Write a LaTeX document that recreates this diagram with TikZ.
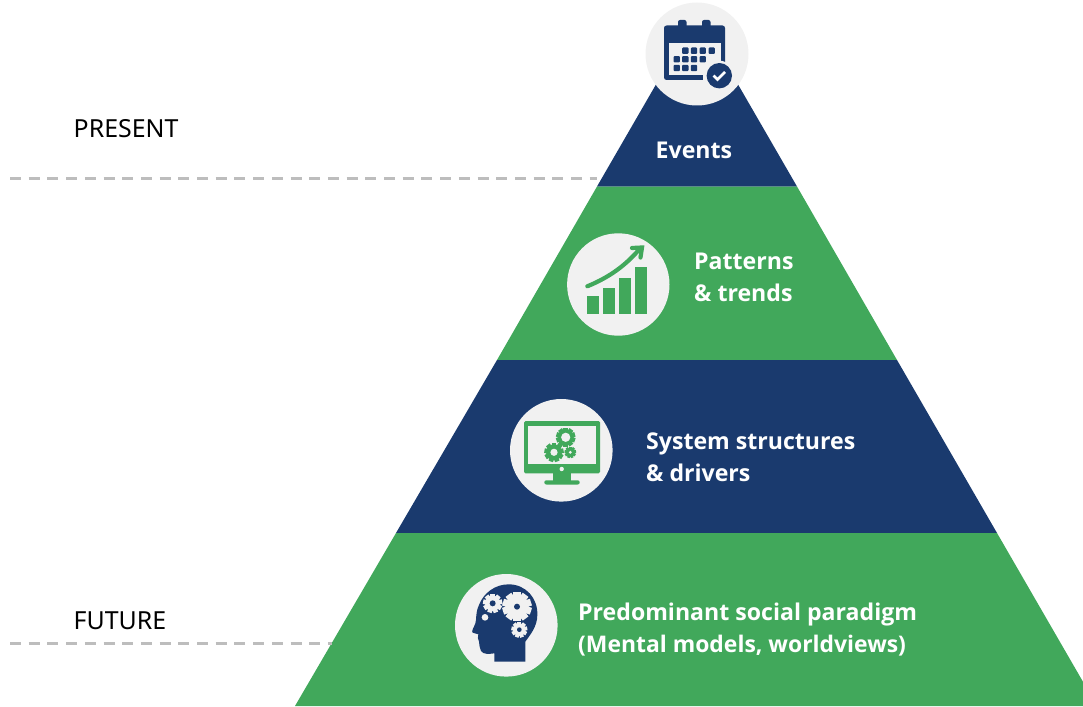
\documentclass[tikz,border=0pt]{standalone}
\usepackage{fontspec}
\setmainfont{Noto Sans}
\newfontfamily\lvlfont{Open Sans}[BoldFont={Open Sans Bold}]
\definecolor{navy}{HTML}{1A3A6E}
\definecolor{leaf}{HTML}{41A85B}
\definecolor{disc}{HTML}{F1F1F1}
\definecolor{dashgray}{HTML}{BDBDBD}
\newcommand{\gearshape}[6]{% x y outer body teeth fill
  \fill[#6] (#1,#2) circle (#4);
  \foreach \k in {1,...,#5}{
    \fill[#6,rotate around={\k*360/#5:(#1,#2)}] ({#1-0.24*#3},#2) rectangle ({#1+0.24*#3},{#2-#3});
  }
}
\tikzset{
  x=1pt,y=-1pt,
  band/.style={draw=none},
  badge/.style={fill=disc},
  guide/.style={draw=dashgray,line width=2.8pt,dash pattern=on 11pt off 7.7pt},
  side/.style={anchor=base west,font=\fontsize{24.9}{24}\selectfont,text=black,inner sep=0pt},
  level/.style={anchor=base west,font=\lvlfont\bfseries\fontsize{23.1}{32}\selectfont,text=white,inner sep=0pt},
}
\begin{document}
\begin{tikzpicture}
\useasboundingbox (0,0) rectangle (1083,706);
\begin{scope}
\clip (0,0) rectangle (1083,706);
\fill[navy,band] (697,13.5) -- (797,186.5) -- (597,186.5) -- cycle;
\fill[leaf,band] (597,186.5) -- (797,186.5) -- (897,360) -- (497,360) -- cycle;
\fill[navy,band] (497,360) -- (897,360) -- (997,533) -- (396,533) -- cycle;
\fill[leaf,band] (396,533) -- (997,533) -- (1097,706) -- (295,706) -- cycle;
\end{scope}
\coordinate (pa) at (10,178.4); \coordinate (pb) at (597,178.4);
\coordinate (fa) at (10,643.4); \coordinate (fb) at (332,643.4);
\draw[guide] (pa) -- (pb);
\draw[guide] (fa) -- (fb);
\node[side] (present) at (73.5,137) {PRESENT};
\node[side] (future) at (73.5,629) {FUTURE};
\node[level] (events) at (655.5,158) {Events};
\node[level] (pat1) at (694,269) {Patterns};
\node[level] (pat2) at (694,301) {\&~trends};
\node[level] (sys1) at (646,449) {System structures};
\node[level] (sys2) at (646,481) {\&~drivers};
\node[level] (par1) at (578,620) {Predominant social paradigm};
\node[level] (par2) at (578,652) {\fontsize{22.9}{32}\selectfont (Mental models, worldviews)};
% calendar
\fill[badge] (697,54) circle (51.5);
\fill[navy,rounded corners=2.5pt] (664,25.5) rectangle (725,80);
\fill[disc] (669,43.5) rectangle (721,75);
\fill[disc] (721,62) rectangle (726,81);
\fill[disc] (703,75) rectangle (726,81);
\fill[navy,rounded corners=2pt] (678,20) rectangle (686.5,32);
\fill[navy,rounded corners=2pt] (702,20) rectangle (710.5,32);
\foreach \cx/\cy in {685.3/50.7,694/50.7,702.7/50.7,711.7/50.7,676.7/59.3,685.3/59.3,694/59.3,702.7/59.3,676.7/68,685.3/68,694/68}
  \fill[navy,rounded corners=1pt] (\cx-3.2,\cy-3.2) rectangle (\cx+3.2,\cy+3.2);
\fill[disc] (719.3,75.7) circle (15);
\fill[navy] (719.3,75.7) circle (12.7);
\draw[white,line width=2.6pt] (713.5,75.5) -- (717.5,79.5) -- (725,72);
% chart
\fill[badge] (618.3,284.5) circle (51.2);
\fill[leaf] (587.3,295.7) rectangle (599,314.3);
\fill[leaf] (603.3,288.3) rectangle (615,314.3);
\fill[leaf] (619,278.3) rectangle (630.7,314.3);
\fill[leaf] (635,267.3) rectangle (646.7,314.3);
\draw[leaf,line width=4.2pt,line cap=round] (587.3,286.3) .. controls (610,277) and (626,265) .. (640,248.5);
\draw[leaf,line width=4.2pt,line cap=round,line join=miter] (632,248) -- (642,247.5) -- (640.5,257.5);
% monitor
\fill[badge] (561.3,450.3) circle (51.3);
\fill[leaf,rounded corners=1.5pt] (524,421) rectangle (600,473.3);
\fill[disc] (528.3,425.7) rectangle (595.7,464.3);
\fill[disc] (561.7,469) circle (2.2);
\fill[leaf] (552.7,473) rectangle (571,481);
\fill[leaf,rounded corners=2pt] (544.3,480.3) rectangle (579.7,484.5);
\gearshape{565.7}{437.3}{9.7}{8}{10}{leaf}
\fill[disc] (565.7,437.3) circle (4.6);
\gearshape{554}{452.3}{9.7}{8}{9}{leaf}
\fill[disc] (554,452.3) circle (3.6);
\gearshape{570.3}{452.3}{5.8}{4.6}{9}{leaf}
\fill[disc] (570.3,452.3) circle (1.6);
% head
\fill[badge] (506.3,625.3) circle (51.3);
\begin{scope}[shift={(450,570)},x=0.3333pt,y=-0.3333pt]
\fill[navy] (133,275) -- (133,250) .. controls (118,252) and (100,254) .. (93,243)
  .. controls (88,235) and (89,225) .. (87,215) .. controls (84,208) and (82,200) .. (85,193)
  -- (68,188) .. controls (63,184) and (72,172) .. (76,160)
  .. controls (80,150) and (76,128) .. (87,105)
  .. controls (100,70) and (135,42) .. (178,43)
  .. controls (228,44) and (264,85) .. (262,135)
  .. controls (262,170) and (240,195) .. (226,215) -- (226,275) -- cycle;
\gearshape{128}{100}{29}{23}{9}{disc}
\fill[navy] (128,100) circle (9);
\gearshape{201}{110}{44}{35}{10}{disc}
\fill[navy] (201,110) circle (9);
\gearshape{208}{179}{24}{19}{9}{disc}
\fill[navy] (208,179) circle (7);
\fill[disc] (105,142) circle (10);
\end{scope}
\end{tikzpicture}
\end{document}
